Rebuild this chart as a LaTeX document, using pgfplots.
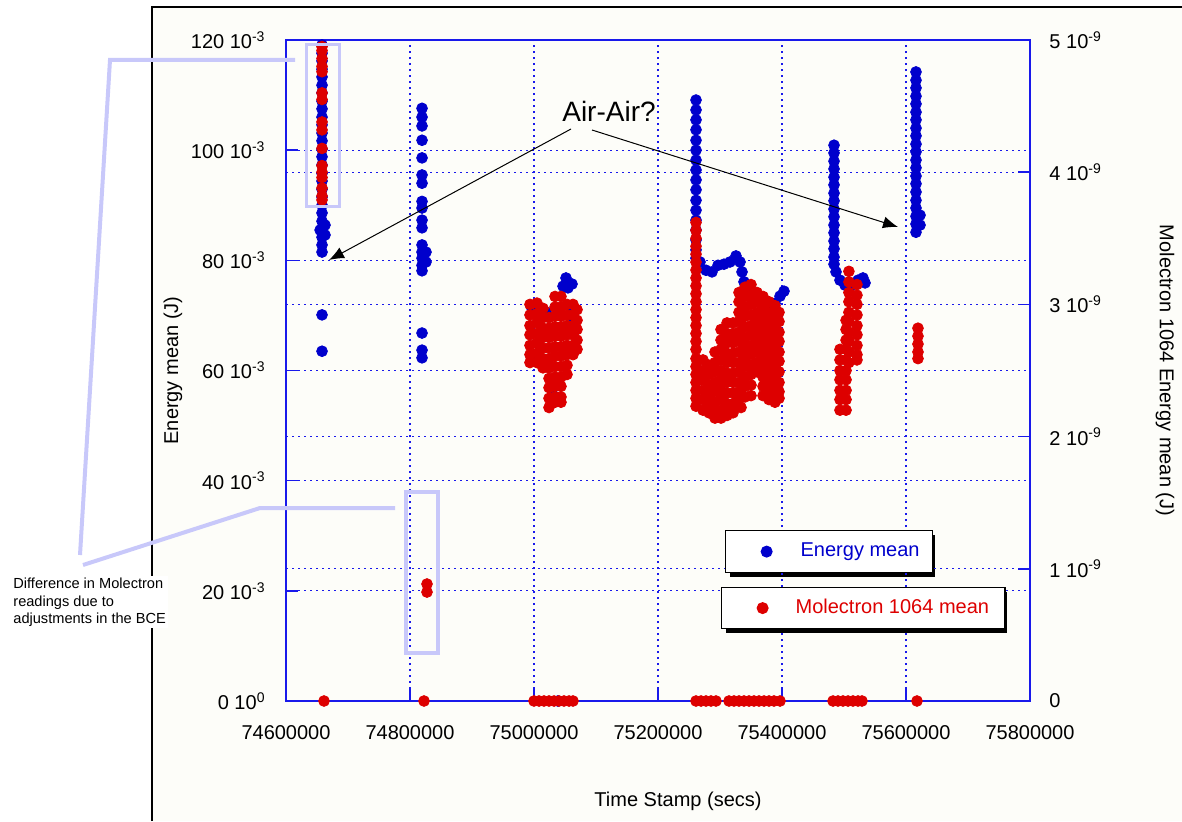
\documentclass[border=0pt]{standalone}
\usepackage{fontspec}
\setmainfont{Liberation Sans}
\usepackage{pgfplots}
\usepackage{pgfplotstable}
\pgfplotsset{compat=1.18}
\usetikzlibrary{arrows.meta}
\definecolor{dblue}{RGB}{0,0,204}
\definecolor{dred}{RGB}{221,0,0}
\definecolor{gblue}{RGB}{25,25,235}
\definecolor{anno}{RGB}{200,200,250}
\definecolor{bgc}{RGB}{253,253,249}

\pgfplotstableread{
t e
74658100 0.1191
74658100 0.1176
74658100 0.1162
74658100 0.1147
74658100 0.1133
74658100 0.1118
74658100 0.1104
74658100 0.1089
74658100 0.1075
74658100 0.1060
74658100 0.1046
74658100 0.1031
74658100 0.1017
74658100 0.1002
74658100 0.0988
74658100 0.0973
74658100 0.0958
74658100 0.0944
74658100 0.0929
74658100 0.0915
74658100 0.0900
74658100 0.0886
74658100 0.0871
74658100 0.0857
74658100 0.0842
74658100 0.0828
74658100 0.0815
74662900 0.0864
74662900 0.0846
74655000 0.0855
74658100 0.0701
74658100 0.0635
74819400 0.1076
74819400 0.1060
74819400 0.1044
74819400 0.1018
74819400 0.0986
74819400 0.0955
74819400 0.0940
74819400 0.0907
74819400 0.0895
74819400 0.0873
74819400 0.0859
74819400 0.0828
74819400 0.0815
74819400 0.0804
74819400 0.0791
74819400 0.0781
74825800 0.0815
74825800 0.0797
74819400 0.0668
74819400 0.0637
74819400 0.0623
75051600 0.0768
75054800 0.0750
75046800 0.0753
75061300 0.0757
75062900 0.0710
75064500 0.0692
75030600 0.0555
74995200 0.0717
75019400 0.0706
75038700 0
75261300 0.1091
75261300 0.1073
75261300 0.1055
75261300 0.1037
75261300 0.1018
75261300 0.1000
75261300 0.0982
75261300 0.0964
75261300 0.0946
75261300 0.0928
75261300 0.0909
75261300 0.0891
75261300 0.0873
75261300 0.0855
75261300 0.0837
75261300 0.0819
75261300 0.0804
75267700 0.0797
75277400 0.0782
75287100 0.0779
75296800 0.0791
75306400 0.0793
75316100 0.0797
75325800 0.0808
75332300 0.0797
75335500 0.0779
75338700 0.0761
75341900 0.0742
75380600 0.0710
75388700 0.0722
75396800 0.0735
75403200 0.0744
75483900 0.1009
75483900 0.0995
75483900 0.0980
75483900 0.0966
75483900 0.0951
75483900 0.0937
75483900 0.0922
75483900 0.0908
75483900 0.0893
75483900 0.0879
75483900 0.0864
75483900 0.0850
75483900 0.0835
75483900 0.0821
75483900 0.0806
75483900 0.0793
75487100 0.0779
75493500 0.0764
75501600 0.0755
75509700 0.0752
75522600 0.0764
75530600 0.0768
75533900 0.0759
75616100 0.1142
75616100 0.1127
75616100 0.1113
75616100 0.1098
75616100 0.1084
75616100 0.1069
75616100 0.1055
75616100 0.1040
75616100 0.1026
75616100 0.1011
75616100 0.0997
75616100 0.0982
75616100 0.0968
75616100 0.0953
75616100 0.0939
75616100 0.0924
75616100 0.0909
75616100 0.0895
75616100 0.0880
75616100 0.0866
75616100 0.0851
75622600 0.0864
75622600 0.0882
}\bluetab

\pgfplotstableread{
t v
74658100 4.95
74658100 4.92
74658100 4.86
74658100 4.80
74658100 4.76
74658100 4.60
74658100 4.55
74658100 4.38
74658100 4.32
74658100 4.18
74658100 4.05
74658100 4.00
74658100 3.96
74658100 3.88
74658100 3.82
74658100 3.79
74661300 0
74827400 0.885
74827400 0.824
74822600 0
75000000 0
75008100 0
75016100 0
75024200 0
75032300 0
75040300 0
75048400 0
75056500 0
75062900 0
74993500 3.00
74993500 2.92
74993500 2.84
74993500 2.77
74993500 2.69
74993500 2.62
74993500 2.56
75004800 3.01
75004800 2.93
75004800 2.86
75004800 2.78
75004800 2.71
75004800 2.63
75004800 2.56
75014500 2.97
75014500 2.90
75014500 2.82
75014500 2.75
75014500 2.67
75014500 2.59
75014500 2.52
75024200 2.90
75024200 2.82
75024200 2.75
75024200 2.67
75024200 2.59
75024200 2.52
75024200 2.44
75024200 2.37
75024200 2.29
75024200 2.22
75033900 3.06
75033900 2.98
75033900 2.91
75033900 2.83
75033900 2.76
75033900 2.68
75033900 2.61
75033900 2.53
75033900 2.45
75033900 2.38
75033900 2.30
75033900 2.26
75043500 3.06
75043500 2.98
75043500 2.91
75043500 2.83
75043500 2.76
75043500 2.68
75043500 2.61
75043500 2.53
75043500 2.45
75043500 2.38
75043500 2.30
75043500 2.26
75053200 3.00
75053200 2.92
75053200 2.84
75053200 2.77
75053200 2.69
75053200 2.62
75053200 2.54
75053200 2.47
75062900 3.00
75062900 2.92
75062900 2.84
75062900 2.77
75062900 2.69
75062900 2.62
75069400 2.96
75069400 2.88
75069400 2.81
75069400 2.73
75069400 2.66
75261300 0
75269400 0
75277400 0
75285500 0
75293500 0
75314500 0
75322600 0
75330600 0
75338700 0
75346800 0
75354800 0
75362900 0
75371000 0
75379000 0
75387100 0
75396800 0
75261300 3.62
75261300 3.56
75261300 3.50
75261300 3.44
75261300 3.38
75261300 3.32
75261300 3.26
75261300 3.20
75261300 3.14
75261300 3.08
75261300 3.02
75261300 2.96
75261300 2.90
75261300 2.84
75261300 2.78
75261300 2.72
75261300 2.66
75261300 2.59
75261300 2.53
75261300 2.47
75261300 2.41
75261300 2.35
75261300 2.29
75261300 2.23
75272600 2.58
75272600 2.50
75272600 2.43
75272600 2.35
75272600 2.28
75272600 2.20
75282300 2.54
75282300 2.47
75282300 2.39
75282300 2.31
75282300 2.24
75282300 2.18
75291900 2.64
75291900 2.56
75291900 2.49
75291900 2.41
75291900 2.34
75291900 2.26
75291900 2.19
75291900 2.14
75301600 2.81
75301600 2.73
75301600 2.66
75301600 2.58
75301600 2.50
75301600 2.43
75301600 2.35
75301600 2.28
75301600 2.20
75301600 2.14
75311300 2.86
75311300 2.78
75311300 2.71
75311300 2.63
75311300 2.56
75311300 2.48
75311300 2.41
75311300 2.33
75311300 2.25
75311300 2.18
75311300 2.16
75321000 2.86
75321000 2.78
75321000 2.71
75321000 2.63
75321000 2.56
75321000 2.48
75321000 2.41
75321000 2.33
75321000 2.25
75321000 2.18
75330600 3.09
75330600 3.02
75330600 2.94
75330600 2.87
75330600 2.79
75330600 2.72
75330600 2.64
75330600 2.56
75330600 2.49
75330600 2.41
75330600 2.34
75330600 2.28
75333900 2.22
75340300 3.13
75340300 3.06
75340300 2.98
75340300 2.91
75340300 2.83
75340300 2.75
75340300 2.68
75340300 2.60
75340300 2.53
75340300 2.45
75340300 2.38
75340300 2.30
75350000 3.15
75350000 3.07
75350000 3.00
75350000 2.92
75350000 2.84
75350000 2.77
75350000 2.69
75350000 2.62
75350000 2.54
75350000 2.47
75350000 2.39
75350000 2.31
75359700 3.09
75359700 3.02
75359700 2.94
75359700 2.87
75359700 2.79
75359700 2.72
75359700 2.64
75359700 2.56
75359700 2.49
75369400 3.06
75369400 2.98
75369400 2.91
75369400 2.83
75369400 2.75
75369400 2.68
75369400 2.60
75369400 2.53
75369400 2.45
75369400 2.38
75369400 2.31
75379000 3.02
75379000 2.94
75379000 2.87
75379000 2.79
75379000 2.72
75379000 2.64
75379000 2.57
75379000 2.49
75379000 2.41
75379000 2.34
75379000 2.28
75388700 2.99
75388700 2.91
75388700 2.84
75388700 2.76
75388700 2.68
75388700 2.61
75388700 2.53
75388700 2.46
75388700 2.38
75388700 2.31
75388700 2.26
75395200 2.94
75395200 2.87
75395200 2.79
75395200 2.72
75395200 2.64
75395200 2.57
75395200 2.49
75395200 2.41
75395200 2.34
75395200 2.29
75482300 0
75490300 0
75498400 0
75506500 0
75514500 0
75522600 0
75529000 0
75507900 3.25
75507900 3.17
75507900 3.09
75507900 3.02
75507900 2.94
75507900 2.87
75507900 2.79
75507900 2.72
75507900 2.64
75507900 2.56
75520900 3.15
75520900 3.07
75520900 3.00
75520900 2.92
75520900 2.84
75520900 2.77
75520900 2.69
75520900 2.62
75520900 2.58
75503300 2.88
75503300 2.81
75503300 2.73
75503300 2.66
75503300 2.58
75503300 2.50
75503300 2.43
75503300 2.35
75503300 2.28
75503300 2.20
75493500 2.66
75493500 2.58
75493500 2.50
75493500 2.43
75493500 2.35
75493500 2.28
75493500 2.20
75619300 2.82
75619300 2.76
75619300 2.70
75619300 2.64
75619300 2.59
75617700 0
}\redtab

\begin{document}
\begin{tikzpicture}
% frame and background
\fill[bgc] (76pt,0pt) rectangle (591pt,407pt);
\draw[line width=0.75pt] (76pt,0pt) -- (76pt,407pt) -- (591pt,407pt);
% legend box shadows (drawn beneath the legends)
\begin{scope}[x=0.5pt, y=-0.5pt, shift={(0pt,410.5pt)}]
  \fill[black] (730,535) rectangle (935,577);
  \fill[black] (726,592) rectangle (1007,633);
\end{scope}

\begin{axis}[
  at={(143pt,60pt)}, anchor=south west,
  scale only axis, width=372pt, height=330.5pt,
  xmin=74600000, xmax=75800000, ymin=0, ymax=0.12,
  clip=false,
  xtick={74600000,74800000,75000000,75200000,75400000,75600000,75800000},
  xticklabels={74600000,74800000,75000000,75200000,75400000,75600000,75800000},
  ytick={0,0.02,0.04,0.06,0.08,0.1,0.12},
  yticklabels={0 10\textsuperscript{0},20 10\textsuperscript{-3},40 10\textsuperscript{-3},60 10\textsuperscript{-3},80 10\textsuperscript{-3},100 10\textsuperscript{-3},120 10\textsuperscript{-3}},
  scaled x ticks=false, scaled y ticks=false,
  xtick pos=bottom, ytick pos=left,
  tick align=inside, major tick length=6pt,
  tick style={gblue, line width=0.8pt},
  axis line style={gblue, line width=0.9pt},
  grid=major,
  major grid style={gblue, line width=0.6pt, dash pattern=on 1.2pt off 1.8pt},
  extra y ticks={0.024,0.048,0.072,0.096},
  extra y tick labels={},
  extra y tick style={grid=major, major tick length=0pt},
  xticklabel style={yshift=-8.5pt},
  yticklabel style={xshift=-6.7pt},
  every axis x label/.style={at={(rel axis cs:0.5269,-0.1513)}, anchor=center},
  every axis y label/.style={at={(rel axis cs:-0.1519,0.5)}, anchor=center, rotate=90},
  xlabel={Time Stamp (secs)},
  ylabel={Energy mean (J)},
  legend style={at={(rel axis cs:0.5901,0.2587)}, anchor=north west,
    draw=black, line width=0.6pt, fill=white, inner sep=0pt,
    nodes={inner sep=0pt}},
  legend image code/.code={\draw[#1] plot coordinates {(0pt,0pt)};\path[draw=none,fill=none] (-20.5pt,-10.5pt) (17pt,10.5pt);},
]
\addplot[only marks, mark=*, color=dblue, mark size=2.7pt] table[x=t, y=e] {\bluetab};
\addlegendentry{\textcolor{dblue}{Energy mean}\kern6.5pt\null}
\end{axis}

\begin{axis}[
  at={(143pt,60pt)}, anchor=south west,
  scale only axis, width=372pt, height=330.5pt,
  xmin=74600000, xmax=75800000, ymin=0, ymax=5e-9,
  clip=false,
  hide x axis, axis y line*=right,
  ytick={0,1e-9,2e-9,3e-9,4e-9,5e-9},
  yticklabels={0,1 10\textsuperscript{-9},2 10\textsuperscript{-9},3 10\textsuperscript{-9},4 10\textsuperscript{-9},5 10\textsuperscript{-9}},
  scaled y ticks=false,
  tick align=inside, major tick length=6pt,
  tick style={gblue, line width=0.8pt},
  axis line style={gblue, line width=0.9pt},
  yticklabel style={xshift=6.2pt},
  every axis y label/.style={at={(rel axis cs:1.1815,0.5)}, anchor=center, rotate=-90},
  ylabel={Molectron 1064 Energy mean (J)},
  legend style={at={(rel axis cs:0.5847,0.1725)}, anchor=north west,
    draw=black, line width=0.6pt, fill=white, inner sep=0pt,
    nodes={inner sep=0pt}},
  legend image code/.code={\draw[#1] plot coordinates {(0pt,0pt)};\path[draw=none,fill=none] (-20.5pt,-10.25pt) (16.5pt,10.25pt);},
]
\addplot[only marks, mark=*, color=dred, mark size=2.7pt] table[x=t, y expr=\thisrow{v}*1e-9] {\redtab};
\addlegendentry{\textcolor{dred}{Molectron 1064 mean}\kern8pt\null}
\end{axis}

\begin{scope}[x=0.5pt, y=-0.5pt, shift={(0pt,410.5pt)}]
  \draw[anno, line width=1.8pt] (306.5,44.5) rectangle (339.5,206.5);
  \draw[anno, line width=1.8pt] (406,492) rectangle (438,653);
  \draw[anno, line width=2pt] (295,60) -- (110,60) -- (80,555);
  \draw[anno, line width=2pt] (395,508) -- (260,508) -- (83,565);
  \node[fill=white, align=left, anchor=north west, inner sep=1pt,
        font=\fontsize{7.3}{8.6}\selectfont] at (11,576)
        {Difference in Molectron\\readings due to\\adjustments in the BCE};
  \node[font=\fontsize{14}{16}\selectfont] at (609,111) {Air-Air?};
  \draw[line width=0.5pt, -{Latex[length=7.5pt,width=6pt]}] (571,129) -- (329,260);
  \draw[line width=0.5pt, -{Latex[length=7.5pt,width=6pt]}] (592,130) -- (898,227);
\end{scope}

\pgfresetboundingbox
\useasboundingbox (0pt,0pt) rectangle (591pt,410.5pt);
\end{tikzpicture}
\end{document}
